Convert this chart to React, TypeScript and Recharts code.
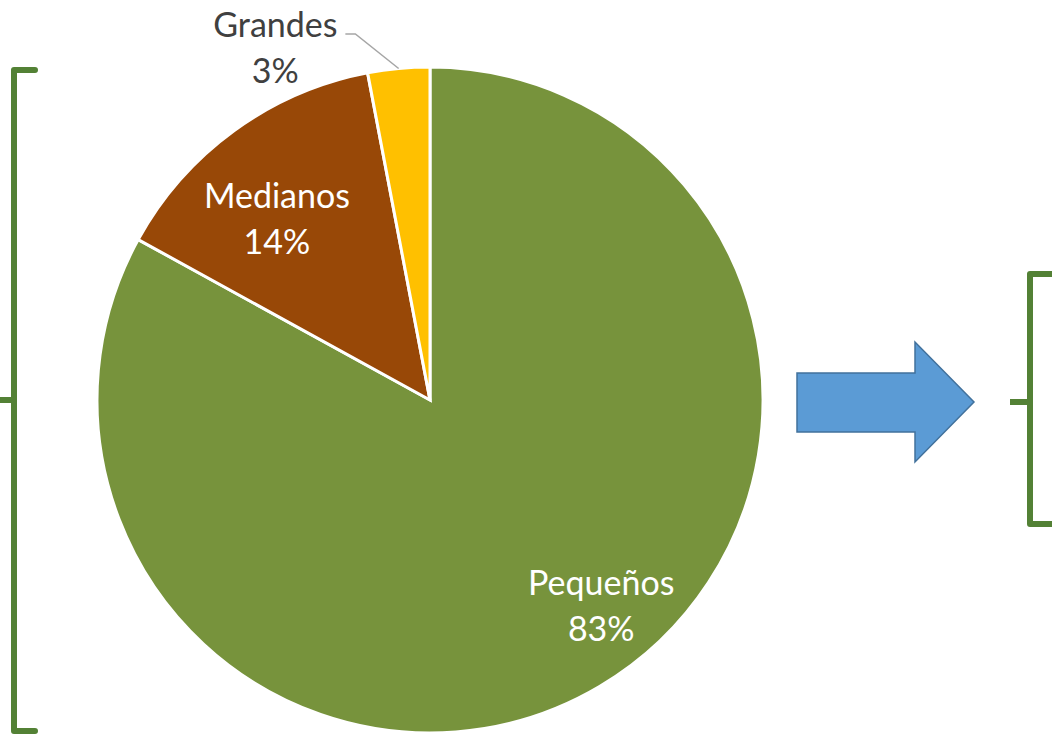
import { PieChart, Pie, Cell } from 'recharts'

const categories = ['Pequeños', 'Medianos', 'Grandes']
const shares = [83, 14, 3]
const sliceColors = ['#77933C', '#984807', '#FFC000']

const data = categories.map((name, i) => ({ name, value: shares[i] }))

// label placement: polar angle (deg) and distance as fraction of radius
const labelPos: Record<string, { angle: number; dist: number; outside?: boolean }> = {
  'Pequeños': { angle: -50, dist: 0.8 },
  'Medianos': { angle: 130, dist: 0.715 },
  'Grandes': { angle: 113.6, dist: 1.16, outside: true },
}

const RAD = Math.PI / 180
const FONT = "Lato, 'Open Sans', sans-serif"

function renderLabel(props: any) {
  const { cx, cy, outerRadius, midAngle, name, value } = props
  const pos = labelPos[name]
  const x = cx + outerRadius * pos.dist * Math.cos(pos.angle * RAD)
  const y = cy - outerRadius * pos.dist * Math.sin(pos.angle * RAD)
  const fill = pos.outside ? '#404040' : '#ffffff'
  let leader = null
  if (pos.outside) {
    const ex = cx + outerRadius * Math.cos(midAngle * RAD)
    const ey = cy - outerRadius * Math.sin(midAngle * RAD)
    leader = (
      <polyline
        points={`${x + 70},${y - 12} ${x + 80},${y - 12} ${ex},${ey}`}
        fill="none"
        stroke="#A6A6A6"
        strokeWidth={1.5}
      />
    )
  }
  return (
    <g key={name}>
      {leader}
      <text x={x} y={y - 23} textAnchor="middle" dominantBaseline="central" fill={fill} fontSize={34} fontFamily={FONT}>
        {name}
      </text>
      <text x={x} y={y + 23} textAnchor="middle" dominantBaseline="central" fill={fill} fontSize={34} fontFamily={FONT}>
        {value}%
      </text>
    </g>
  )
}

function Decorations() {
  const g = '#538135'
  return (
    <svg width={1052} height={736} style={{ position: 'absolute', left: 0, top: 0 }}>
      {/* left bracket */}
      <path d="M35,70 L14,70 L14,731 L35,731" fill="none" stroke={g} strokeWidth={6} strokeLinecap="round" strokeLinejoin="round" />
      <path d="M0,400 L14,400" fill="none" stroke={g} strokeWidth={6} />
      {/* arrow */}
      <polygon points="797,373 915,373 915,342 974,402 915,462 915,432 797,432" fill="#5B9BD5" stroke="#41719C" strokeWidth={1.5} />
      {/* right bracket */}
      <path d="M1060,274 L1030,274 L1030,524 L1060,524" fill="none" stroke={g} strokeWidth={6} strokeLinecap="round" strokeLinejoin="round" />
      <path d="M1010,402 L1030,402" fill="none" stroke={g} strokeWidth={6} />
    </svg>
  )
}

export default function App() {
  return (
    <div style={{ position: 'absolute', left: 0, top: 0, width: 1052, height: 736, background: '#fff', overflow: 'hidden' }}>
      <Decorations />
      <div style={{ position: 'absolute', left: 0, top: 0 }}>
        <PieChart width={1052} height={736} margin={{ top: 0, right: 0, bottom: 0, left: 0 }}>
          <Pie
            data={data}
            dataKey="value"
            nameKey="name"
            cx={430}
            cy={400}
            outerRadius={333}
            startAngle={90}
            endAngle={-270}
            stroke="#ffffff"
            strokeWidth={3}
            label={renderLabel}
            labelLine={false}
            isAnimationActive={false}
          >
            {data.map((d, i) => (
              <Cell key={d.name} fill={sliceColors[i]} />
            ))}
          </Pie>
        </PieChart>
      </div>
    </div>
  )
}
